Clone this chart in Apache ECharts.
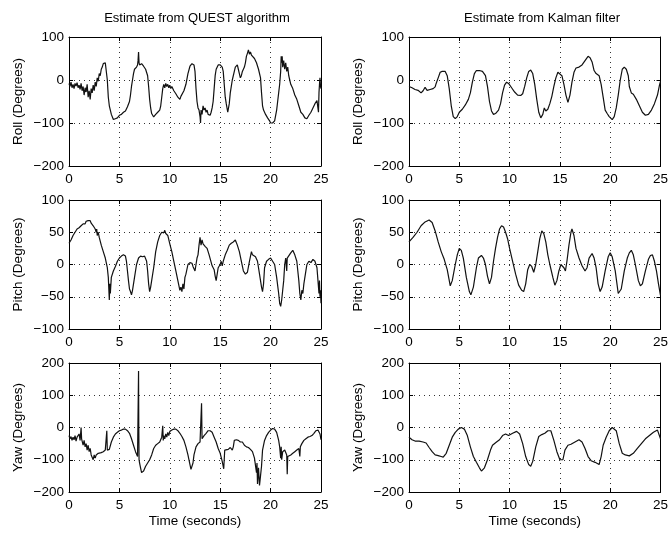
<!DOCTYPE html>
<html>
<head>
<meta charset="utf-8">
<script src="https://cdn.jsdelivr.net/npm/echarts@6/dist/echarts.min.js"></script>
<style>html,body{margin:0;padding:0;background:#fff}#c{width:671px;height:533px}</style>
</head>
<body>
<div id="c"></div>
<script>
// ---- Data: [time (s), degrees] ----
var questRoll = [[0,-8],[0.1,-15],[0.2,-5],[0.3,-18],[0.4,-10],[0.5,-20],[0.6,-8],[0.7,-14],[0.8,-6],[0.9,-18],[1.0,-12],[1.1,-22],[1.2,-8],[1.3,-25],[1.4,-15],[1.5,-35],[1.6,-18],[1.7,-28],[1.8,-10],[1.9,-40],[2.0,-25],[2.1,-45],[2.2,-20],[2.3,-30],[2.4,-12],[2.5,-25],[2.6,-5],[2.7,-15],[2.8,5],[2.9,-3],[3.0,15],[3.1,10],[3.2,25],[3.3,30],[3.4,38],[3.5,42],[3.6,40],[3.7,38],[3.8,0],[3.9,-40],[4.0,-60],[4.2,-80],[4.4,-92],[4.5,-96],[4.6,-90],[4.8,-88],[5.0,-82],[5.2,-80],[5.4,-75],[5.6,-72],[5.8,-62],[6.0,-50],[6.1,-35],[6.2,-15],[6.3,0],[6.4,15],[6.5,25],[6.6,28],[6.7,30],[6.8,35],[6.85,45],[6.9,65],[6.95,40],[7.0,35],[7.2,38],[7.4,32],[7.6,25],[7.8,10],[7.9,-15],[8.0,-45],[8.1,-65],[8.2,-78],[8.3,-82],[8.4,-86],[8.5,-84],[8.6,-80],[8.8,-75],[9.0,-70],[9.1,-60],[9.2,-40],[9.3,-20],[9.4,-10],[9.5,-18],[9.6,-8],[9.7,-15],[9.8,-10],[9.9,-18],[10.0,-12],[10.1,-20],[10.2,-15],[10.4,-25],[10.6,-32],[10.8,-40],[11.0,-45],[11.1,-38],[11.2,-42],[11.4,-25],[11.6,-10],[11.8,15],[12.0,32],[12.2,38],[12.4,35],[12.5,20],[12.6,-20],[12.7,-50],[12.8,-65],[12.9,-70],[13.0,-85],[13.05,-100],[13.1,-70],[13.2,-80],[13.3,-60],[13.4,-70],[13.5,-65],[13.6,-75],[13.7,-70],[13.8,-80],[13.9,-78],[14.0,-82],[14.1,-75],[14.2,-65],[14.3,-50],[14.4,-20],[14.5,10],[14.6,25],[14.8,35],[15.0,35],[15.2,30],[15.3,20],[15.4,-10],[15.5,-40],[15.6,-55],[15.75,-75],[15.9,-55],[16.0,-30],[16.2,0],[16.4,20],[16.5,30],[16.7,35],[16.8,25],[16.9,15],[17.0,5],[17.1,10],[17.2,20],[17.4,30],[17.5,40],[17.6,55],[17.7,62],[17.8,70],[17.9,60],[18.0,65],[18.1,58],[18.2,60],[18.4,50],[18.6,40],[18.8,25],[19.0,5],[19.1,-30],[19.2,-60],[19.3,-70],[19.5,-80],[19.7,-88],[19.9,-95],[20.0,-100],[20.2,-100],[20.4,-95],[20.6,-70],[20.7,-50],[20.8,-30],[20.9,-10],[21.0,20],[21.05,55],[21.1,40],[21.15,55],[21.2,30],[21.3,45],[21.4,25],[21.5,40],[21.6,20],[21.7,30],[21.8,10],[21.9,0],[22.0,-10],[22.2,-20],[22.4,-35],[22.6,-45],[22.8,-60],[23.0,-75],[23.2,-80],[23.4,-88],[23.6,-90],[23.8,-82],[24.0,-75],[24.2,-65],[24.4,-55],[24.6,-48],[24.7,-45],[24.75,-75],[24.8,-30],[24.85,-10],[24.9,5],[24.95,-15],[25.0,-20]];

var kalmanRoll = [[0,-15],[0.3,-18],[0.6,-22],[0.9,-24],[1.2,-30],[1.4,-25],[1.6,-17],[1.8,-24],[2.1,-22],[2.4,-20],[2.6,-16],[2.7,-8],[2.9,5],[3.1,18],[3.3,20],[3.6,20],[3.8,10],[4.0,-20],[4.2,-60],[4.4,-85],[4.6,-90],[4.8,-85],[5.0,-75],[5.3,-68],[5.6,-58],[5.9,-45],[6.1,-30],[6.3,-5],[6.5,15],[6.7,22],[7.0,22],[7.3,20],[7.6,10],[7.8,-15],[8.0,-50],[8.2,-72],[8.4,-80],[8.6,-78],[8.9,-70],[9.1,-55],[9.3,-30],[9.5,-12],[9.7,-5],[9.9,-8],[10.2,-18],[10.5,-28],[10.8,-35],[11.1,-36],[11.3,-32],[11.5,-15],[11.7,5],[11.9,20],[12.1,23],[12.3,15],[12.5,-10],[12.7,-45],[12.9,-75],[13.1,-88],[13.3,-80],[13.45,-65],[13.6,-72],[13.8,-68],[14.0,-55],[14.2,-38],[14.4,-15],[14.6,5],[14.8,18],[14.95,20],[15.2,10],[15.4,-10],[15.6,-35],[15.8,-52],[16.0,-35],[16.2,-5],[16.4,18],[16.6,28],[16.9,30],[17.2,35],[17.5,45],[17.8,55],[18.0,52],[18.2,42],[18.4,22],[18.6,15],[18.9,10],[19.1,-10],[19.3,-40],[19.5,-70],[19.7,-78],[19.9,-85],[20.2,-92],[20.4,-85],[20.6,-65],[20.8,-35],[21.0,0],[21.2,25],[21.4,30],[21.6,25],[21.8,10],[21.9,-15],[22.1,-30],[22.3,-33],[22.6,-45],[22.9,-60],[23.2,-75],[23.5,-82],[23.8,-80],[24.1,-70],[24.4,-55],[24.7,-35],[24.9,-12],[25.0,-3]];

var questPitch = [[0,33],[0.2,38],[0.4,45],[0.6,50],[0.8,55],[1.0,57],[1.2,60],[1.4,63],[1.5,65],[1.6,63],[1.7,67],[1.8,65],[1.9,68],[2.0,66],[2.1,68],[2.2,64],[2.3,65],[2.4,60],[2.5,62],[2.6,55],[2.7,50],[2.75,55],[2.8,45],[2.9,50],[3.0,42],[3.2,30],[3.4,20],[3.6,10],[3.8,-5],[3.9,-20],[4.0,-55],[4.05,-30],[4.1,-45],[4.2,-20],[4.4,-10],[4.6,-3],[4.8,5],[5.0,10],[5.2,13],[5.4,15],[5.6,13],[5.7,5],[5.8,-10],[5.9,-25],[6.0,-38],[6.1,-42],[6.2,-47],[6.3,-40],[6.5,-20],[6.7,0],[6.9,10],[7.1,13],[7.3,12],[7.5,13],[7.7,5],[7.8,-10],[7.9,-30],[8.0,-42],[8.1,-35],[8.2,-25],[8.4,-5],[8.6,20],[8.8,35],[9.0,45],[9.2,50],[9.3,52],[9.4,49],[9.5,53],[9.6,48],[9.8,45],[10.0,32],[10.2,20],[10.4,5],[10.6,-10],[10.8,-25],[11.0,-40],[11.1,-35],[11.2,-42],[11.3,-30],[11.4,-38],[11.5,-20],[11.6,-15],[11.8,0],[12.0,3],[12.2,2],[12.3,-3],[12.4,-5],[12.5,-10],[12.6,0],[12.7,10],[12.8,15],[12.9,30],[13.0,42],[13.1,30],[13.2,38],[13.3,32],[13.4,35],[13.5,28],[13.7,25],[13.9,15],[14.0,12],[14.2,-2],[14.4,-8],[14.5,-18],[14.6,-25],[14.7,-15],[14.8,-5],[15.0,0],[15.1,5],[15.2,-2],[15.3,5],[15.5,15],[15.7,22],[15.9,30],[16.1,33],[16.3,35],[16.5,38],[16.7,30],[16.9,20],[17.1,5],[17.3,-10],[17.5,-15],[17.7,-12],[17.9,5],[18.1,20],[18.2,15],[18.3,18],[18.5,12],[18.7,5],[18.9,-15],[19.1,-35],[19.2,-42],[19.3,-30],[19.4,-5],[19.5,0],[19.6,5],[19.8,8],[20.0,10],[20.2,5],[20.4,0],[20.6,-20],[20.8,-45],[20.9,-60],[21.0,-65],[21.1,-55],[21.2,-40],[21.3,-25],[21.4,0],[21.5,10],[21.6,-10],[21.65,10],[21.8,13],[22.0,18],[22.2,22],[22.4,15],[22.6,5],[22.7,-10],[22.8,-25],[22.9,-45],[23.0,-55],[23.1,-40],[23.2,-45],[23.3,-30],[23.5,-10],[23.6,0],[23.8,5],[24.0,3],[24.2,8],[24.4,5],[24.6,-5],[24.7,-25],[24.8,-45],[24.85,-25],[24.9,-50],[24.95,-40],[25.0,-60]];

var kalmanPitch = [[0,35],[0.4,42],[0.8,50],[1.2,60],[1.6,66],[2.0,69],[2.3,65],[2.6,52],[2.9,35],[3.2,20],[3.5,8],[3.8,-8],[4.1,-33],[4.3,-25],[4.6,0],[4.8,15],[5.0,25],[5.2,22],[5.4,10],[5.7,-20],[6.0,-42],[6.15,-47],[6.4,-35],[6.7,-5],[6.9,10],[7.2,14],[7.4,10],[7.6,0],[7.8,-18],[8.0,-30],[8.2,-20],[8.4,5],[8.6,25],[8.8,42],[9.0,55],[9.2,60],[9.4,58],[9.6,50],[9.8,40],[10.0,25],[10.3,5],[10.6,-15],[10.9,-32],[11.2,-40],[11.4,-42],[11.6,-30],[11.8,-8],[12.0,0],[12.2,-3],[12.4,-12],[12.6,0],[12.8,20],[13.0,40],[13.2,52],[13.4,48],[13.6,35],[13.8,15],[14.0,0],[14.3,-20],[14.5,-32],[14.7,-25],[14.9,-10],[15.1,0],[15.25,3],[15.4,-5],[15.55,-10],[15.7,5],[15.9,30],[16.1,50],[16.2,55],[16.4,45],[16.6,25],[16.9,10],[17.2,-2],[17.5,-10],[17.7,-5],[17.9,10],[18.2,17],[18.4,10],[18.6,-5],[18.8,-30],[19.0,-42],[19.2,-35],[19.5,-10],[19.8,12],[20.0,18],[20.2,12],[20.5,-10],[20.8,-45],[20.9,-48],[21.1,-38],[21.4,-10],[21.7,10],[21.9,18],[22.1,22],[22.3,15],[22.5,0],[22.8,-25],[23.0,-33],[23.2,-30],[23.5,-10],[23.8,8],[24.0,14],[24.2,15],[24.4,5],[24.6,-10],[24.8,-30],[25.0,-48]];

var questYaw = [[0,-25],[0.1,-35],[0.2,-28],[0.3,-40],[0.4,-30],[0.5,-38],[0.6,-25],[0.7,-42],[0.8,-30],[0.9,-35],[1.0,-20],[1.1,-40],[1.2,0],[1.25,-35],[1.3,-30],[1.4,-55],[1.5,-40],[1.6,-60],[1.7,-50],[1.8,-70],[1.9,-55],[2.0,-75],[2.1,-65],[2.2,-85],[2.3,-80],[2.4,-100],[2.5,-85],[2.6,-95],[2.7,-85],[2.8,-88],[2.9,-80],[3.0,-85],[3.2,-78],[3.4,-75],[3.6,-70],[3.7,-72],[3.75,-10],[3.8,-70],[3.9,-65],[4.0,-68],[4.2,-45],[4.4,-30],[4.6,-20],[4.8,-15],[5.0,-10],[5.2,-8],[5.4,-5],[5.6,-5],[5.8,-10],[6.0,-18],[6.2,-35],[6.4,-55],[6.6,-75],[6.8,-90],[6.85,-95],[6.9,175],[6.92,20],[6.95,-100],[7.0,-110],[7.1,-125],[7.2,-140],[7.3,-145],[7.4,-135],[7.6,-120],[7.8,-110],[8.0,-100],[8.2,-85],[8.4,-65],[8.6,-55],[8.8,-50],[9.0,-45],[9.1,-50],[9.2,-30],[9.3,5],[9.35,-40],[9.4,-25],[9.5,-35],[9.6,-20],[9.7,-30],[9.8,-15],[9.9,-25],[10.0,-12],[10.2,-8],[10.4,-5],[10.6,-5],[10.8,-10],[11.0,-18],[11.2,-28],[11.4,-40],[11.6,-60],[11.8,-85],[12.0,-115],[12.1,-130],[12.2,-135],[12.3,-110],[12.4,-85],[12.6,-60],[12.8,-50],[13.0,-45],[13.1,-40],[13.15,75],[13.2,-35],[13.3,-40],[13.4,-25],[13.5,-30],[13.6,-18],[13.7,-15],[13.8,-10],[14.0,-10],[14.2,-15],[14.4,-30],[14.6,-45],[14.8,-65],[15.0,-80],[15.2,-105],[15.35,-128],[15.45,-70],[15.6,-65],[15.8,-68],[16.0,-62],[16.2,-70],[16.3,-60],[16.4,-40],[16.6,-38],[16.8,-40],[17.0,-45],[17.2,-45],[17.4,-55],[17.6,-60],[17.8,-62],[18.0,-68],[18.2,-75],[18.4,-95],[18.5,-100],[18.6,-140],[18.65,-110],[18.7,-175],[18.8,-125],[18.9,-180],[19.0,-150],[19.1,-120],[19.2,-70],[19.4,-40],[19.6,-25],[19.8,-15],[20.0,-8],[20.2,-3],[20.4,-5],[20.6,-15],[20.8,-40],[20.9,-60],[21.0,-95],[21.05,-60],[21.1,-100],[21.2,-75],[21.3,-80],[21.4,-70],[21.5,-75],[21.6,-85],[21.65,-145],[21.7,-90],[21.8,-88],[22.0,-85],[22.2,-80],[22.4,-75],[22.6,-70],[22.8,-65],[22.9,-90],[22.95,-60],[23.1,-50],[23.3,-40],[23.5,-35],[23.7,-30],[23.9,-28],[24.1,-25],[24.3,-18],[24.5,-10],[24.7,-8],[24.9,-20],[25.0,-38]];

var kalmanYaw = [[0,-30],[0.3,-38],[0.6,-42],[1.0,-42],[1.4,-45],[1.7,-48],[2.0,-62],[2.3,-75],[2.6,-85],[2.9,-87],[3.2,-90],[3.4,-92],[3.7,-80],[4.0,-55],[4.3,-30],[4.6,-15],[4.9,-5],[5.2,0],[5.5,-5],[5.8,-25],[6.1,-60],[6.4,-90],[6.7,-108],[7.0,-125],[7.2,-135],[7.5,-125],[7.8,-100],[8.1,-70],[8.3,-55],[8.7,-45],[9.0,-38],[9.3,-25],[9.6,-20],[9.9,-25],[10.3,-18],[10.7,-12],[11.0,-20],[11.3,-50],[11.6,-90],[11.9,-115],[12.1,-120],[12.3,-105],[12.6,-60],[12.9,-28],[13.2,-22],[13.5,-18],[13.8,-10],[14.1,-10],[14.4,-40],[14.7,-75],[15.0,-100],[15.3,-100],[15.5,-70],[15.8,-55],[16.1,-52],[16.5,-45],[16.9,-38],[17.2,-45],[17.5,-65],[17.8,-90],[18.1,-103],[18.5,-108],[18.9,-115],[19.1,-90],[19.3,-55],[19.6,-30],[19.9,-10],[20.2,0],[20.35,3],[20.6,-10],[20.9,-50],[21.2,-80],[21.5,-85],[21.9,-88],[22.3,-80],[22.7,-65],[23.1,-50],[23.5,-35],[23.9,-25],[24.3,-15],[24.7,-8],[24.85,-10],[25.0,-35]];

var columnTitles = ['Estimate from QUEST algorithm', 'Estimate from Kalman filter'];
var rowNames = ['Roll (Degrees)', 'Pitch (Degrees)', 'Yaw (Degrees)'];
var rowRanges = [[-200, 100, 100], [-100, 100, 50], [-200, 200, 100]];
var xRange = [0, 25, 5];
var xName = 'Time (seconds)';
var seriesGrid = [[questRoll, kalmanRoll], [questPitch, kalmanPitch], [questYaw, kalmanYaw]];

// ---- Layout ----
var FONT = 'Liberation Sans, Arial, Helvetica, sans-serif';
var colLeft = [69, 409], plotW = 252;
var rowTop = [37, 200, 363], plotH = 129;

function fmt(v) { return v < 0 ? '\u2212' + Math.abs(v) : String(v); }

var grids = [], xAxes = [], yAxes = [], series = [];
var dotted = { show: true, lineStyle: { color: '#333', width: 1, type: [1, 4] } };
var tickIn = { show: true, inside: true, length: 4, lineStyle: { color: '#000' } };
var axLine = { show: true, onZero: false, lineStyle: { color: '#000', width: 1 } };

for (var r = 0; r < 3; r++) {
  for (var c = 0; c < 2; c++) {
    var gi = grids.length;
    grids.push({ left: colLeft[c], top: rowTop[r], width: plotW, height: plotH, show: false, containLabel: false });
    var xi = xAxes.length;
    xAxes.push({
      type: 'value', gridIndex: gi, position: 'bottom', min: xRange[0], max: xRange[1], interval: xRange[2],
      axisLine: axLine, axisTick: tickIn, splitLine: dotted,
      axisLabel: { color: '#000', fontSize: 13.5, fontFamily: FONT, margin: 6 },
      name: r === 2 ? xName : '', nameLocation: 'middle', nameGap: 22,
      nameTextStyle: { color: '#000', fontSize: 13.5, fontFamily: FONT }
    });
    xAxes.push({
      type: 'value', gridIndex: gi, position: 'top', min: xRange[0], max: xRange[1], interval: xRange[2],
      axisLine: axLine, axisTick: tickIn, splitLine: { show: false }, axisLabel: { show: false }
    });
    var yi = yAxes.length;
    yAxes.push({
      type: 'value', gridIndex: gi, position: 'left', min: rowRanges[r][0], max: rowRanges[r][1], interval: rowRanges[r][2],
      axisLine: axLine, axisTick: tickIn, splitLine: dotted,
      axisLabel: { color: '#000', fontSize: 13.5, fontFamily: FONT, margin: 5, formatter: fmt },
      name: rowNames[r], nameLocation: 'middle', nameGap: 44, nameRotate: 90,
      nameTextStyle: { color: '#000', fontSize: 13.5, fontFamily: FONT }
    });
    yAxes.push({
      type: 'value', gridIndex: gi, position: 'right', min: rowRanges[r][0], max: rowRanges[r][1], interval: rowRanges[r][2],
      axisLine: axLine, axisTick: tickIn, splitLine: { show: false }, axisLabel: { show: false }
    });
    series.push({
      type: 'line', xAxisIndex: xi, yAxisIndex: yi, data: seriesGrid[r][c],
      showSymbol: false, symbol: 'none', animation: false,
      lineStyle: { color: '#111', width: 1.2 }, clip: true
    });
  }
}

var chart = echarts.init(document.getElementById('c'), null, { renderer: 'canvas' });
chart.setOption({
  backgroundColor: '#fff',
  animation: false,
  title: [
    { text: columnTitles[0], left: 192, top: 7, textAlign: 'center', textStyle: { color: '#000', fontSize: 13, fontWeight: 'normal', fontFamily: FONT } },
    { text: columnTitles[1], left: 537, top: 7, textAlign: 'center', textStyle: { color: '#000', fontSize: 13, fontWeight: 'normal', fontFamily: FONT } }
  ],
  grid: grids,
  xAxis: xAxes,
  yAxis: yAxes,
  series: series
});
</script>
</body>
</html>
